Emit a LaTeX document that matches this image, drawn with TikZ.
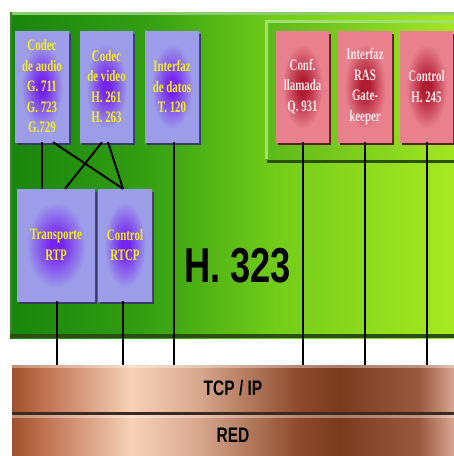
\documentclass[tikz,border=0pt]{standalone}
\usepackage{fontspec}
\usetikzlibrary{shadows}
\newfontfamily\boxfont[FakeStretch=0.68]{Liberation Serif}
\newfontfamily\hfont[FakeStretch=0.74]{Liberation Sans}
\definecolor{blav}{HTML}{9C9CE8}
\definecolor{bcen}{HTML}{7426F0}
\definecolor{rpink}{HTML}{E8808E}
\definecolor{rcen}{HTML}{B01C32}
\definecolor{ytext}{HTML}{F4F020}
\definecolor{wtext}{HTML}{FFE8E8}
\definecolor{bshad}{HTML}{3A3A6A}
\definecolor{rshad}{HTML}{5A2020}
\definecolor{gtop}{HTML}{8CCC70}
\definecolor{gdark}{HTML}{2A5010}
\definecolor{plight}{HTML}{A0E070}
\definecolor{sepbrown}{HTML}{3C2A20}
\colorlet{bmid}{bcen!55!blav}
\colorlet{rmid}{rcen!55!rpink}
\pgfdeclareradialshading{bluebox}{\pgfpointorigin}{color(0bp)=(bcen); color(4bp)=(bcen); color(11bp)=(bmid); color(19bp)=(blav); color(50bp)=(blav)}
\pgfdeclareradialshading{redbox}{\pgfpointorigin}{color(0bp)=(rcen); color(4bp)=(rcen); color(11bp)=(rmid); color(19bp)=(rpink); color(50bp)=(rpink)}
\pgfdeclarehorizontalshading{greenbg}{100bp}{rgb(0bp)=(0.1,0.52,0.05); rgb(25bp)=(0.1,0.52,0.05); rgb(40bp)=(0.2,0.62,0.07); rgb(55bp)=(0.45,0.8,0.1); rgb(75bp)=(0.66,0.91,0.13); rgb(100bp)=(0.66,0.91,0.13)}
\pgfdeclarehorizontalshading{greenpanel}{100bp}{rgb(0bp)=(0.36,0.72,0.1); rgb(25bp)=(0.36,0.72,0.1); rgb(75bp)=(0.64,0.9,0.14); rgb(100bp)=(0.64,0.9,0.14)}
\pgfdeclarehorizontalshading{brownbar}{100bp}{rgb(0bp)=(0.62,0.32,0.18); rgb(25bp)=(0.62,0.32,0.18); rgb(28.75bp)=(0.75,0.45,0.32); rgb(38.5bp)=(0.96,0.82,0.72); rgb(46bp)=(0.85,0.66,0.56); rgb(57.5bp)=(0.55,0.29,0.17); rgb(62bp)=(0.48,0.23,0.12); rgb(71bp)=(0.6,0.35,0.25); rgb(75bp)=(0.85,0.65,0.58); rgb(100bp)=(0.85,0.65,0.58)}
\tikzset{
  bbox/.style={shade, shading=bluebox, align=center, inner sep=0pt,
    font=\boxfont\bfseries\fontsize{16}{20.5}\selectfont, text=ytext,
    drop shadow={shadow xshift=2pt, shadow yshift=-2.5pt, fill=bshad, opacity=1}},
  rbox/.style={shade, shading=redbox, align=center, inner sep=0pt,
    font=\boxfont\bfseries\fontsize{16}{20.5}\selectfont, text=wtext,
    drop shadow={shadow xshift=2pt, shadow yshift=-2.5pt, fill=rshad, opacity=1}},
  bar/.style={shade, shading=brownbar, inner sep=0pt, minimum width=442pt,
    font=\hfont\bfseries\fontsize{21}{21}\selectfont, text=black},
  conn/.style={line width=2pt, black},
  big/.style={font=\hfont\bfseries\fontsize{49}{49}\selectfont}
}
\begin{document}
\begin{tikzpicture}[x=1pt,y=-1pt]
\useasboundingbox (0,0) rectangle (454,456);
% green background
\shade[shading=greenbg] (10,12) rectangle (454,338);
\fill[gtop] (10,12) rectangle (454,15);
\fill[gtop!70!green!60!black] (10,12) rectangle (12,338);
\fill[gdark] (10,334) rectangle (454,338);
% right panel
\fill[gdark] (267,23) rectangle (454,163);
\shade[shading=greenpanel] (265,20) rectangle (454,159);
\fill[plight] (265,20) rectangle (454,23);
\fill[plight] (265,20) rectangle (268,159);
% boxes
\node[bbox, minimum width=54pt, minimum height=111pt] (audio) at (42,86.5) {Codec\\de audio\\G. 711\\G. 723\\G.729};
\node[bbox, minimum width=53pt, minimum height=111pt] (video) at (106.5,86.5) {Codec\\de video\\H. 261\\H. 263};
\node[bbox, minimum width=54pt, minimum height=111pt] (datos) at (172,86.5) {Interfaz\\de datos\\T. 120};
\node[rbox, minimum width=53pt, minimum height=111pt] (conf) at (302.5,86.5) {Conf.\\llamada\\Q. 931};
\node[rbox, minimum width=54pt, minimum height=111pt] (ras) at (365,86.5) {Interfaz\\RAS\\Gate-\\keeper};
\node[rbox, minimum width=53pt, minimum height=111pt] (ctrl) at (426.5,86.5) {Control\\H. 245};
\node[bbox, minimum width=78pt, minimum height=112pt] (rtp) at (56,245) {Transporte\\RTP};
\node[bbox, minimum width=54pt, minimum height=112pt] (rtcp) at (125,245) {Control\\RTCP};
% bars
\node[bar, minimum height=47pt] (tcp) at (233,388.5) {TCP / IP};
\fill[sepbrown] (12,412) rectangle (454,415);
\node[bar, minimum height=41pt] (red) at (233,435.5) {RED};
\fill[white, fill opacity=0.35] (12,365) rectangle (454,368);
\fill[white, fill opacity=0.35] (12,415) rectangle (454,418);
% H.323 title
\node[big, text=black] (h323) at (237.5,265.5) {H. 323};
% connectors
\draw[conn] (audio.south) -- (audio.south |- rtp.north);
\draw[conn] ([xshift=11pt]audio.south) -- ([xshift=-2pt]rtcp.north);
\draw[conn] ([xshift=-4.5pt]video.south) -- ([xshift=9pt]rtp.north);
\draw[conn] ([xshift=1.5pt]video.south) -- ([xshift=-2pt]rtcp.north);
\draw[conn] ([xshift=2pt]datos.south) -- ([xshift=2pt]datos.south |- tcp.north);
\draw[conn] ([xshift=1pt]rtp.south) -- ([xshift=1pt]rtp.south |- tcp.north);
\draw[conn] ([xshift=-2pt]rtcp.south) -- ([xshift=-2pt]rtcp.south |- tcp.north);
\draw[conn] (conf.south) -- (conf.south |- tcp.north);
\draw[conn] (ras.south) -- (ras.south |- tcp.north);
\draw[conn] (ctrl.south) -- (ctrl.south |- tcp.north);
\end{tikzpicture}
\end{document}
